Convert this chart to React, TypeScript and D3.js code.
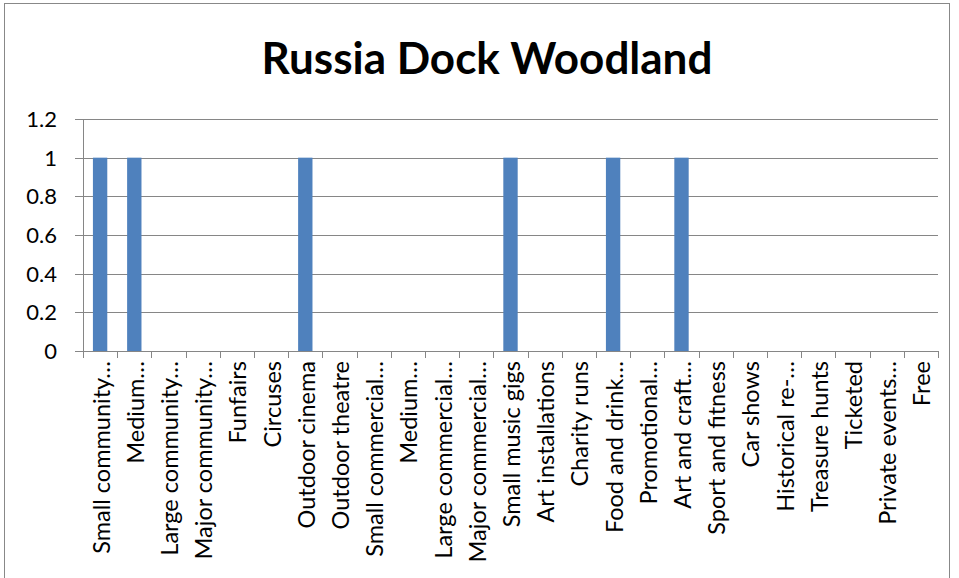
import React from "react";
import * as d3 from "d3";

const categories: string[] = [
  "Small community…", "Medium…", "Large community…", "Major community…", "Funfairs",
  "Circuses", "Outdoor cinema", "Outdoor theatre", "Small commercial…", "Medium…",
  "Large commercial…", "Major commercial…", "Small music gigs", "Art installations", "Charity runs",
  "Food and drink…", "Promotional…", "Art and craft…", "Sport and fitness", "Car shows",
  "Historical re-…", "Treasure hunts", "Ticketed", "Private events…", "Free",
];
const values: number[] = [1, 1, 0, 0, 0, 0, 1, 0, 0, 0, 0, 0, 1, 0, 0, 1, 0, 1, 0, 0, 0, 0, 0, 0, 0];
const yTicks: number[] = [0, 0.2, 0.4, 0.6, 0.8, 1, 1.2];
const title = "Russia Dock Woodland";

const W = 959, H = 578;
const plot = { left: 83, right: 938, top: 119, bottom: 351 };
const font = "Lato, 'Open Sans', sans-serif";

export default function App() {
  const x = d3.scaleBand<number>().domain(categories.map((_, i) => i)).range([plot.left, plot.right]).paddingInner(0).paddingOuter(0);
  const y = d3.scaleLinear().domain([0, 1.2]).range([plot.bottom, plot.top]);
  const bw = x.bandwidth();
  const barW = bw * 0.42;
  return (
    <svg width={W} height={H} style={{ position: "absolute", left: 0, top: 0, background: "#fff" }}>
      <rect x={4.5} y={3.5} width={945} height={590} fill="#fff" stroke="#888" strokeWidth={1} />
      <text x={487} y={74} textAnchor="middle" fontFamily={font} fontWeight="bold" fontSize={44} fill="#000">{title}</text>
      {yTicks.map((t) => (
        <g key={t}>
          <line x1={plot.left - 8} x2={plot.right} y1={Math.round(y(t)) + 0.5} y2={Math.round(y(t)) + 0.5} stroke="#868686" strokeWidth={1} />
          <text x={plot.left - 26} y={y(t)} dy="0.36em" textAnchor="end" fontFamily={font} fontSize={22} fill="#000">{String(t)}</text>
        </g>
      ))}
      <line x1={plot.left + 0.5} x2={plot.left + 0.5} y1={plot.top} y2={plot.bottom} stroke="#868686" />
      {categories.map((_, i) => (
        <line key={"t" + i} x1={Math.round(x(i)!) + 0.5} x2={Math.round(x(i)!) + 0.5} y1={plot.bottom} y2={plot.bottom + 7} stroke="#868686" />
      ))}
      <line x1={plot.right + 0.5} x2={plot.right + 0.5} y1={plot.bottom} y2={plot.bottom + 7} stroke="#868686" />
      {values.map((v, i) => (
        <rect key={"b" + i} x={x(i)! + (bw - barW) / 2} y={y(v)} width={barW} height={plot.bottom - y(v)} fill="#4F81BD" />
      ))}
      {categories.map((c, i) => (
        <text key={"l" + i} transform={`translate(${x(i)! + bw / 2 + 1},${plot.bottom + 10}) rotate(-90)`} textAnchor="end" dy="0.36em" fontFamily={font} fontSize={23.5} fill="#000">{c}</text>
      ))}
    </svg>
  );
}
